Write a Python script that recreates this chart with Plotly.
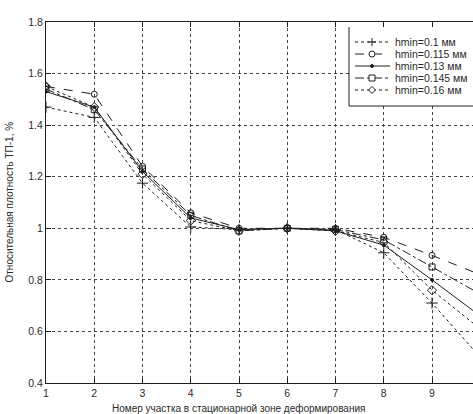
import plotly.graph_objects as go

# Section number along the stationary zone
sections = [1, 2, 3, 4, 5, 6, 7, 8, 9, 10]

# Relative density for each minimum thickness hmin
dens_h0100 = [1.47, 1.43, 1.175, 1.005, 0.995, 1.0, 0.995, 0.905, 0.71, 0.50]
dens_h0115 = [1.55, 1.52, 1.24, 1.06, 1.0, 1.0, 1.0, 0.965, 0.895, 0.82]
dens_h0130 = [1.53, 1.47, 1.22, 1.04, 0.995, 1.0, 0.99, 0.935, 0.80, 0.66]
dens_h0145 = [1.54, 1.46, 1.23, 1.05, 0.99, 1.0, 0.995, 0.955, 0.85, 0.745]
dens_h0160 = [1.55, 1.47, 1.21, 1.03, 0.99, 1.0, 0.99, 0.945, 0.76, 0.61]

series_names = ["hmin=0.1 мм", "hmin=0.115 мм", "hmin=0.13 мм", "hmin=0.145 мм", "hmin=0.16 мм"]
y_ticks = [0.4, 0.6, 0.8, 1.0, 1.2, 1.4, 1.6, 1.8]
y_tick_text = ["0.4", "0.6", "0.8", "1", "1.2", "1.4", "1.6", "1.8"]
x_ticks = [1, 2, 3, 4, 5, 6, 7, 8, 9]

series = [dens_h0100, dens_h0115, dens_h0130, dens_h0145, dens_h0160]
symbols = ["cross-thin-open", "circle-open", "circle", "square-open", "diamond-open"]
msizes = [8, 6, 3, 6, 7]
dashes = ["dot", "dash", "solid", "dashdot", "dot"]

INK = "#1e1e1e"
TXT = "#2a2a2a"
FONT = "Liberation Sans, Arial, sans-serif"

W, H = 473, 414
ML, MR, MT, MB = 46, 0, 22, 31
PW, PH = W - ML - MR, H - MT - MB

fig = go.Figure()

for vals, sym, ms, dsh, name in zip(series, symbols, msizes, dashes, series_names):
    fig.add_trace(go.Scatter(
        x=sections, y=vals, name=name, mode="lines+markers",
        line=dict(color=INK, width=1, dash=dsh),
        marker=dict(symbol=sym, size=ms, color=INK, line=dict(color=INK, width=1)),
        showlegend=False, cliponaxis=True,
    ))


def px_x(px):
    return (px - ML) / PW


def px_y(py):
    return (H - MB - py) / PH


# Legend panel drawn on top of the grid
leg_left, leg_top, leg_bottom = 349, 27, 106
entry_y = [42, 54, 66, 78, 90]
key_x0, key_x1, key_mid, text_x = 355, 390, 372, 393

fig.add_shape(type="rect", xref="paper", yref="paper", layer="above",
              x0=px_x(leg_left), x1=1.05, y0=px_y(leg_bottom), y1=px_y(leg_top),
              fillcolor="white", line=dict(width=0))


def key_marker(sym, ms, ax, ay):
    r = ms / 2.0
    common = dict(xref="paper", yref="paper", xsizemode="pixel", ysizemode="pixel",
                  xanchor=ax, yanchor=ay, layer="above")
    if sym == "cross-thin-open":
        fig.add_shape(type="line", x0=-r, x1=r, y0=0, y1=0, line=dict(color=INK, width=1), **common)
        fig.add_shape(type="line", x0=0, x1=0, y0=-r, y1=r, line=dict(color=INK, width=1), **common)
    elif sym == "circle-open":
        fig.add_shape(type="circle", x0=-r, x1=r, y0=-r, y1=r, fillcolor="white",
                      line=dict(color=INK, width=1), **common)
    elif sym == "circle":
        fig.add_shape(type="circle", x0=-r, x1=r, y0=-r, y1=r, fillcolor=INK,
                      line=dict(color=INK, width=1), **common)
    elif sym == "square-open":
        fig.add_shape(type="rect", x0=-r, x1=r, y0=-r, y1=r, fillcolor="white",
                      line=dict(color=INK, width=1), **common)
    elif sym == "diamond-open":
        fig.add_shape(type="path", path=f"M {-r} 0 L 0 {r} L {r} 0 L 0 {-r} Z",
                      fillcolor="white", line=dict(color=INK, width=1), **common)


for sym, ms, dsh, name, ey in zip(symbols, msizes, dashes, series_names, entry_y):
    fig.add_shape(type="line", xref="paper", yref="paper", layer="above",
                  x0=px_x(key_x0), x1=px_x(key_x1), y0=px_y(ey), y1=px_y(ey),
                  line=dict(color=INK, width=1, dash=dsh))
    key_marker(sym, ms, px_x(key_mid), px_y(ey))
    fig.add_annotation(
        x=px_x(text_x), y=px_y(ey), xref="paper", yref="paper", text=name,
        showarrow=False, xanchor="left", yanchor="middle",
        font=dict(family=FONT, size=10.5, color=TXT),
    )

fig.add_shape(type="line", xref="paper", yref="paper", layer="above",
              x0=px_x(leg_left), x1=px_x(leg_left), y0=px_y(leg_top), y1=px_y(leg_bottom),
              line=dict(color=INK, width=1))
fig.add_shape(type="line", xref="paper", yref="paper", layer="above",
              x0=px_x(leg_left), x1=1.05, y0=px_y(leg_bottom), y1=px_y(leg_bottom),
              line=dict(color=INK, width=1))

# Axis titles
fig.add_annotation(
    x=px_x(9), y=0.5, xref="paper", yref="paper", textangle=-90,
    text="Относительная плотность ТП-1, %", showarrow=False,
    font=dict(family=FONT, size=10, color=TXT), xanchor="center", yanchor="middle",
)
fig.add_annotation(
    x=px_x(238), y=px_y(408), xref="paper", yref="paper",
    text="Номер участка в стационарной зоне деформирования", showarrow=False,
    font=dict(family=FONT, size=10, color=TXT), xanchor="center", yanchor="middle",
)

grid = dict(showgrid=True, gridcolor="#444444", gridwidth=1, griddash="dot")
fig.update_layout(
    width=W, height=H,
    margin=dict(l=ML, r=MR, t=MT, b=MB, pad=0),
    paper_bgcolor="white", plot_bgcolor="white",
    showlegend=False,
    xaxis=dict(range=[1, 1 + PW / 48.25], tickvals=x_ticks, ticks="inside", ticklen=5,
               tickcolor=INK, showline=True, linecolor=INK, linewidth=1, mirror="ticks",
               zeroline=False, tickfont=dict(family=FONT, size=10.5, color=TXT), **grid),
    yaxis=dict(range=[0.4, 1.8], tickvals=y_ticks, ticktext=y_tick_text, ticks="inside",
               ticklen=5, tickcolor=INK, showline=True, linecolor=INK, linewidth=1,
               zeroline=False, tickfont=dict(family=FONT, size=10.5, color=TXT), **grid),
)

fig.write_html("out.html")
